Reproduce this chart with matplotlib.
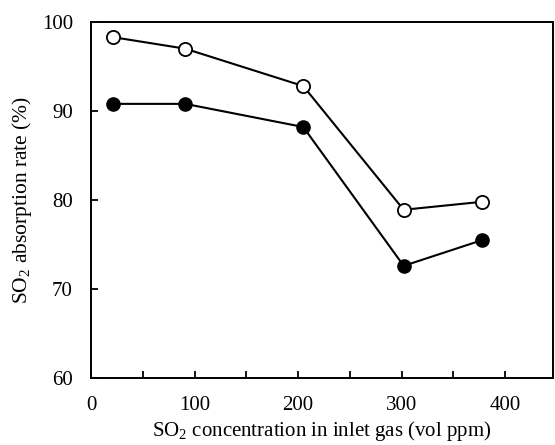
import matplotlib
matplotlib.use("Agg")
import matplotlib.pyplot as plt
from matplotlib.ticker import MultipleLocator

plt.rcParams['font.family'] = ['Liberation Serif', 'DejaVu Serif']
plt.rcParams['mathtext.fontset'] = 'custom'
plt.rcParams['mathtext.rm'] = 'Liberation Serif'
plt.rcParams['mathtext.it'] = 'Liberation Serif:italic'

conc = [21, 91, 205, 302, 378]
open_series = [98.3, 97.0, 92.8, 78.9, 79.8]
filled_series = [90.8, 90.8, 88.2, 72.6, 75.5]
xticks = [0, 100, 200, 300, 400]
yticks = [60, 70, 80, 90, 100]

fig = plt.figure(figsize=(5.55, 4.45), dpi=100)
ax = fig.add_axes([0.164, 0.1506, 0.832, 0.80])

ax.plot(conc, open_series, color='black', lw=1.5, marker='o', ms=9.5,
        markerfacecolor='white', markeredgecolor='black', markeredgewidth=1.3, zorder=3)
ax.plot(conc, filled_series, color='black', lw=1.5, marker='o', ms=9.5,
        markerfacecolor='black', markeredgecolor='black', zorder=3)

ax.set_xlim(0, 446)
ax.set_ylim(60, 100)
ax.set_xticks(xticks)
ax.set_yticks(yticks)
ax.xaxis.set_minor_locator(MultipleLocator(50))
ax.tick_params(axis='both', which='both', direction='in', labelsize=15, width=1.3)
ax.tick_params(axis='both', which='major', length=5)
ax.tick_params(axis='x', which='major', pad=13)
ax.tick_params(axis='y', which='major', pad=13)
ax.tick_params(axis='x', which='minor', length=5)
ax.tick_params(top=False, right=False)
for s in ax.spines.values():
    s.set_linewidth(1.4)

ax.set_xlabel('SO$_2$ concentration in inlet gas (vol ppm)', fontsize=15, labelpad=3)
ax.set_ylabel('SO$_2$ absorption rate (%)', fontsize=15.5, labelpad=6)

fig.savefig('out.png', dpi=100)
